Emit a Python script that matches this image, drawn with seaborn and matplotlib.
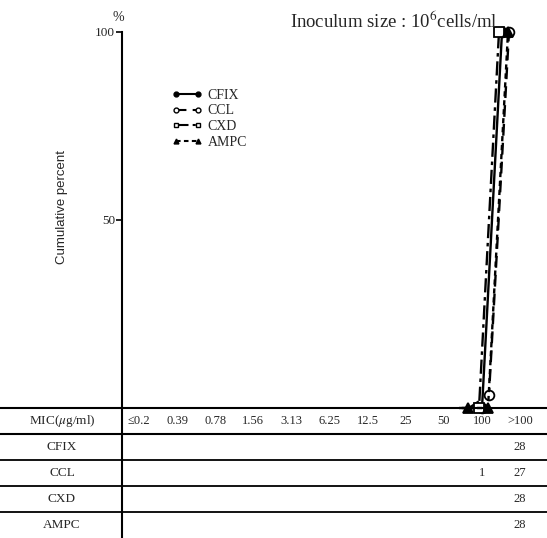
import numpy as np
import pandas as pd
import matplotlib
matplotlib.use("Agg")
import matplotlib.pyplot as plt
import matplotlib.transforms as mtransforms
import seaborn as sns

# ---- data ----
mic_labels = ["≤0.2", "0.39", "0.78", "1.56", "3.13", "6.25", "12.5", "25", "50", "100", ">100"]
drugs = ["CFIX", "CCL", "CXD", "AMPC"]
cfix_counts = [0, 0, 0, 0, 0, 0, 0, 0, 0, 0, 28]
ccl_counts = [0, 0, 0, 0, 0, 0, 0, 0, 0, 1, 27]
cxd_counts = [0, 0, 0, 0, 0, 0, 0, 0, 0, 0, 28]
ampc_counts = [0, 0, 0, 0, 0, 0, 0, 0, 0, 0, 28]
y_ticks = [50, 100]
title_text = "Inoculum size : 10$^{6}$cells/ml"
y_label = "Cumulative percent"
header_label = "MIC($\\mu$g/ml)"

counts = {"CFIX": cfix_counts, "CCL": ccl_counts, "CXD": cxd_counts, "AMPC": ampc_counts}

sns.set_theme(style="white")
plt.rcParams["font.family"] = ["Liberation Serif", "DejaVu Serif"]
plt.rcParams["mathtext.fontset"] = "stix"

W, H = 547, 538
fig = plt.figure(figsize=(W / 100, H / 100), dpi=100)
fig.patch.set_facecolor("white")

# ---- line plot axes ----
ax_left, ax_bot, ax_top = 122, 408, 32
ax = fig.add_axes([ax_left / W, (H - ax_bot) / H, (W - ax_left) / W, (ax_bot - ax_top) / H])
ax.set_facecolor("none")
step_px = 20.0
x9_px = 485
ax.set_xlim(9 - (x9_px - ax_left) / step_px, 9 + (W - x9_px) / step_px)
ax.set_ylim(0, 100)

styles = {
    "CFIX": dict(marker="o", mfc="black", ls="-", dx=-3, me=slice(1, None)),
    "CCL": dict(marker="o", mfc="white", ls=(0, (5, 3)), dx=4, me=slice(1, None)),
    "CXD": dict(marker="s", mfc="white", ls=(0, (6, 2, 1.5, 2)), dx=-6, me=slice(1, None)),
    "AMPC": dict(marker="^", mfc="black", ls=(0, (2.2, 1.6)), dx=3, me=None),
}

first_nonzero = min(int(np.nonzero(np.array(c))[0][0]) for c in counts.values())
start = max(first_nonzero - 1, 0)

rows = []
for d in drugs:
    c = np.array(counts[d], dtype=float)
    cum = np.cumsum(c) / c.sum() * 100
    for i in range(start, len(mic_labels)):
        rows.append(dict(drug=d, idx=i, pct=cum[i]))
df = pd.DataFrame(rows)

legend_handles = []
for d in drugs:
    st = styles[d]
    sub = df[df.drug == d]
    tr = mtransforms.offset_copy(ax.transData, fig=fig, x=st["dx"], y=0, units="dots")
    sns.lineplot(data=sub, x="idx", y="pct", ax=ax, color="black", linewidth=1.7,
                 linestyle=st["ls"], marker=st["marker"], markersize=7, markevery=st["me"],
                 markerfacecolor=st["mfc"], markeredgecolor="black", markeredgewidth=1.3,
                 transform=tr, clip_on=False, label=d, legend=False)
    h, = ax.plot([], [], color="black", linewidth=1.5, linestyle=st["ls"], marker=st["marker"],
                 markersize=3.5, markerfacecolor=st["mfc"], markeredgecolor="black",
                 markeredgewidth=1.0, label=d)
    legend_handles.append(h)

for s in ["top", "right", "bottom"]:
    ax.spines[s].set_visible(False)
ax.spines["left"].set_color("black")
ax.spines["left"].set_linewidth(1.5)
ax.set_xticks([])
ax.set_yticks(y_ticks)
ax.set_yticklabels([str(t) for t in y_ticks], fontsize=9.5)
ax.tick_params(axis="y", direction="out", length=4, width=1.2, color="black", pad=1, left=True)
ax.set_xlabel("")
ax.set_ylabel("")
ax.text(-0.008, 1.022, "%", transform=ax.transAxes, ha="center", va="bottom", fontsize=10)
fig.text(62 / W, 1 - 207 / H, y_label, rotation=90, ha="center", va="center",
         fontsize=9.5, family=["Liberation Sans", "DejaVu Sans"])
fig.text(394 / W, 1 - 21 / H, title_text, ha="center", va="center", fontsize=13.5)

leg = fig.legend(handles=legend_handles, loc="upper left", bbox_to_anchor=(172 / W, 1 - 89 / H),
                 bbox_transform=fig.transFigure, frameon=False, fontsize=10, numpoints=2,
                 handlelength=2.2, handletextpad=0.35, labelspacing=0.18, borderpad=0, borderaxespad=0)

# ---- table axes ----
col0_px, col10_px = 139, 520
cstep = (col10_px - col0_px) / 10
tab = fig.add_axes([ax_left / W, 0, (W - ax_left) / W, (H - ax_bot) / H])
tab.set_facecolor("none")
tab.set_xlim(-(col0_px - ax_left) / cstep, 10 + (W - col10_px) / cstep)
tab.set_ylim(len(drugs) + 0.5, -0.5)
tab.set_xticks([])
tab.set_yticks([])
for s in ["top", "right", "bottom"]:
    tab.spines[s].set_visible(False)
tab.spines["left"].set_color("black")
tab.spines["left"].set_linewidth(1.5)

blend = mtransforms.blended_transform_factory(fig.transFigure, tab.transData)
for k in range(len(drugs) + 1):
    yl = k - 0.5
    lw = 1.5 if k < 2 else 1.3
    tab.plot([0, 1], [yl, yl], color="black", linewidth=lw, transform=blend, clip_on=False)

label_x = 62 / W
tab.text(label_x, 0, header_label, transform=blend, ha="center", va="center", fontsize=9.5)
for i, lab in enumerate(mic_labels):
    tab.text(i, 0, lab, ha="center", va="center", fontsize=9)
for r, d in enumerate(drugs, start=1):
    tab.text(label_x, r, d, transform=blend, ha="center", va="center", fontsize=9.5)
    for i, c in enumerate(counts[d]):
        if c:
            tab.text(i, r, str(c), ha="center", va="center", fontsize=9)

fig.savefig("out.png", dpi=100, facecolor="white")
